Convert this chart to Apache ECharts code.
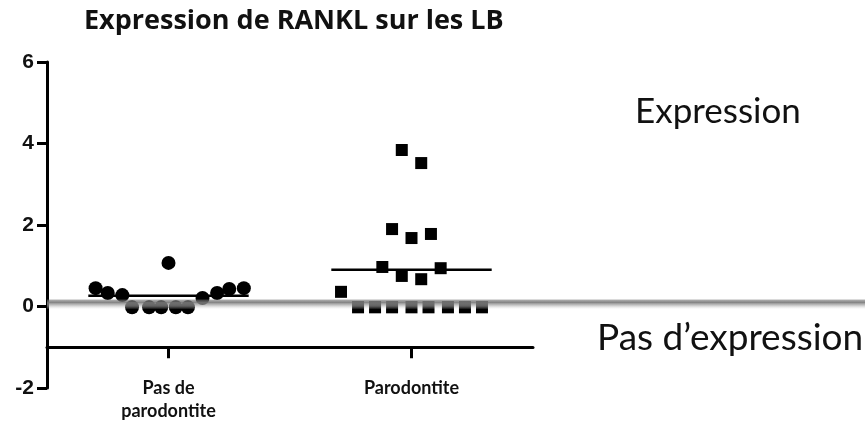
<!DOCTYPE html>
<html>
<head>
<meta charset="utf-8">
<title>Expression de RANKL sur les LB</title>
<script src="https://cdn.jsdelivr.net/npm/echarts@6/dist/echarts.min.js"></script>
<style>
  html, body { margin: 0; padding: 0; background: #fff; }
  #chart { width: 865px; height: 428px; }
</style>
</head>
<body>
<div id="chart"></div>
<script>
// groupes (axe x : 0.5 et 1.5)
const groupNames = ['Pas de\nparodontite', 'Parodontite']
const groupPos = [0.5, 1.5]

// Pas de parodontite (ronds)
const noPerioX = [0.20, 0.25, 0.31, 0.35, 0.42, 0.47, 0.53, 0.58, 0.50, 0.64, 0.70, 0.75, 0.81]
const noPerioY = [0.45, 0.33, 0.28, -0.02, -0.02, -0.02, -0.02, -0.02, 1.07, 0.21, 0.33, 0.43, 0.45]

// Parodontite (carrés)
const perioX = [1.46, 1.54, 1.42, 1.50, 1.58, 1.38, 1.46, 1.54, 1.62, 1.21,
  1.28, 1.35, 1.42, 1.50, 1.57, 1.65, 1.72, 1.79]
const perioY = [3.84, 3.52, 1.90, 1.68, 1.78, 0.97, 0.75, 0.67, 0.94, 0.36,
  -0.02, -0.02, -0.02, -0.02, -0.02, -0.02, -0.02, -0.02]

// seuil d'expression
const threshold = 0.05

const mean = arr => arr.reduce((a, b) => a + b, 0) / arr.length
const pairs = (xs, ys) => xs.map((x, i) => [x, ys[i]])

const chart = echarts.init(document.getElementById('chart'))
const gridTop = 62
const gridHeight = 326

const option = {
  animation: false,
  title: [
    {
      text: 'Expression de RANKL sur les LB',
      left: 79, top: 3,
      textStyle: { fontFamily: 'Open Sans', fontWeight: 'bold', fontSize: 27, color: '#111' }
    },
    {
      text: 'Expression',
      left: 630, top: 89,
      textStyle: { fontFamily: 'Lato', fontWeight: 'normal', fontSize: 35, color: '#111' }
    },
    {
      text: 'Pas d’expression',
      left: 592, top: 315,
      textStyle: { fontFamily: 'Lato', fontWeight: 'normal', fontSize: 37, color: '#111' }
    }
  ],
  grid: { left: 47, top: gridTop, width: 486, height: gridHeight },
  xAxis: {
    type: 'value',
    min: 0,
    max: 2,
    offset: -gridHeight / 8, // l'axe x coupe y = -1
    splitLine: { show: false },
    axisLine: { onZero: false, lineStyle: { color: '#000', width: 3 } },
    axisTick: { customValues: groupPos, length: 11, lineStyle: { color: '#000', width: 3 } },
    axisLabel: {
      customValues: groupPos,
      formatter: v => groupNames[groupPos.indexOf(v)],
      margin: 29,
      fontFamily: 'Lato', fontWeight: 'bold', fontSize: 18, color: '#111', lineHeight: 23
    }
  },
  yAxis: {
    type: 'value',
    min: -2,
    max: 6,
    interval: 2,
    splitLine: { show: false },
    axisLine: { show: true, lineStyle: { color: '#000', width: 3 } },
    axisTick: { length: 10, lineStyle: { color: '#000', width: 3 } },
    axisLabel: {
      margin: 13,
      fontFamily: 'Liberation Sans', fontWeight: 'bold', fontSize: 21, color: '#111'
    }
  },
  series: [
    {
      type: 'scatter',
      data: pairs(noPerioX, noPerioY),
      symbol: 'circle',
      symbolSize: 14,
      itemStyle: { color: '#000', opacity: 1 }
    },
    {
      type: 'scatter',
      data: pairs(perioX, perioY),
      symbol: 'rect',
      symbolSize: 12,
      itemStyle: { color: '#000', opacity: 1 }
    },
    {
      type: 'line',
      data: [[0.17, mean(noPerioY)], [0.83, mean(noPerioY)]],
      symbol: 'none',
      lineStyle: { color: '#000', width: 2.5 }
    },
    {
      type: 'line',
      data: [[1.17, mean(perioY)], [1.83, mean(perioY)]],
      symbol: 'none',
      lineStyle: { color: '#000', width: 2.5 }
    }
  ]
}
chart.setOption(option)

// bande grise du seuil, jusqu'au bord droit
const p = chart.convertToPixel({ gridIndex: 0 }, [0, threshold])
chart.setOption({
  graphic: [{
    type: 'rect',
    z: 100,
    shape: { x: p[0], y: p[1] - 5, width: 865 - p[0], height: 10 },
    style: {
      fill: new echarts.graphic.LinearGradient(0, 0, 0, 1, [
        { offset: 0, color: 'rgba(110,110,110,0.5)' },
        { offset: 0.3, color: 'rgba(120,120,120,0.9)' },
        { offset: 0.65, color: 'rgba(175,175,175,0.55)' },
        { offset: 1, color: 'rgba(230,230,230,0)' }
      ])
    }
  }]
})
</script>
</body>
</html>
